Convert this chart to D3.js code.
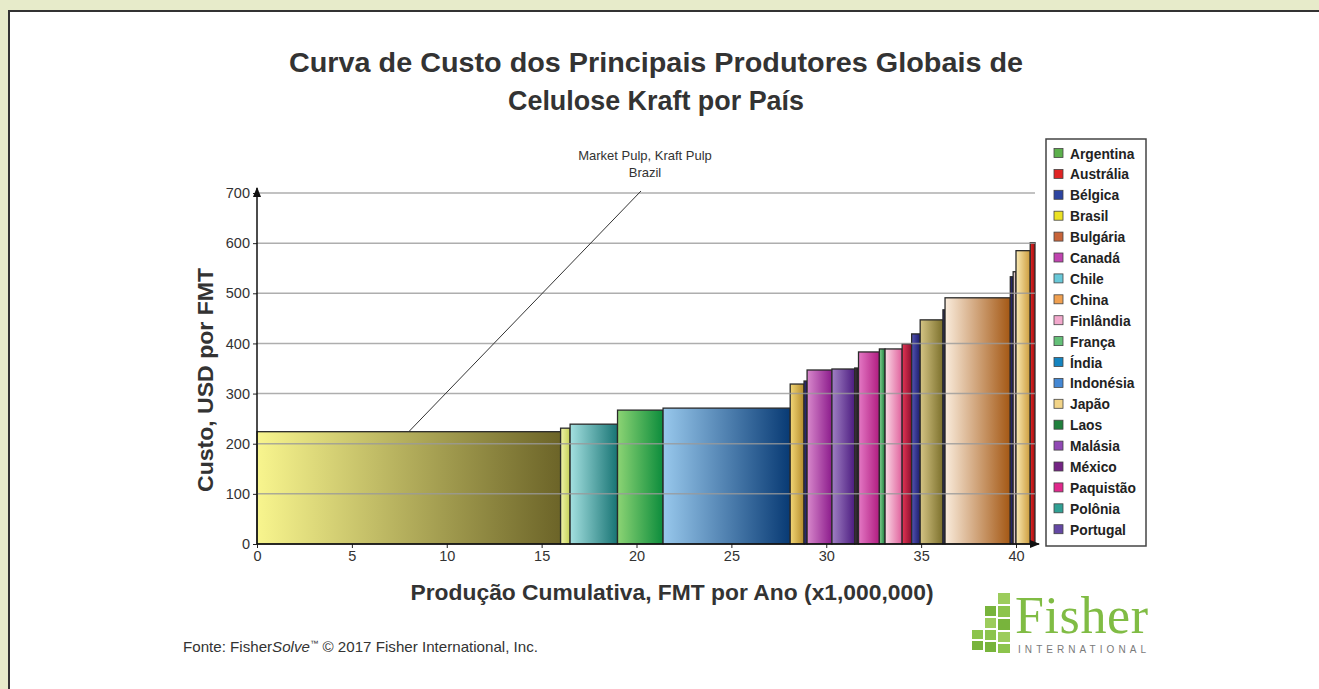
<!DOCTYPE html>
<html>
<head>
<meta charset="utf-8">
<script src="https://cdn.jsdelivr.net/npm/d3@7"></script>
<style>
  body { margin: 0; background: #e7ebca; }
  svg { display: block; }
</style>
</head>
<body>
<svg width="1319" height="689"></svg>
<script>
// bars, left to right (country, production in Mt, cost USD/FMT)
var countries = ["Brasil", "Uruguai", "Chile", "Argentina", "Indonésia", "Espanha", "Bélgica",
  "Canadá", "Portugal", "México", "Paquistão", "França", "Finlândia", "Áustria", "Alemanha",
  "Rússia", "Tailândia", "EUA", "Índia", "Polônia", "Japão", "Austrália"];
var production = [16.0, 0.5, 2.5, 2.4, 6.7, 0.73, 0.16, 1.31, 1.2, 0.2, 1.1, 0.3, 0.9, 0.5, 0.45,
  1.2, 0.11, 3.44, 0.15, 0.15, 0.75, 0.25];
var cost = [224, 231, 239, 267, 271, 319, 325, 347, 349, 351, 383, 389, 389, 399, 419,
  447, 467, 491, 533, 543, 585, 601];

var xTicks = [0, 5, 10, 15, 20, 25, 30, 35, 40];
var yTicks = [0, 100, 200, 300, 400, 500, 600, 700];

var legendNames = ["Argentina", "Austrália", "Bélgica", "Brasil", "Bulgária", "Canadá", "Chile",
  "China", "Finlândia", "França", "Índia", "Indonésia", "Japão", "Laos", "Malásia", "México",
  "Paquistão", "Polônia", "Portugal"];
var legendColors = ["#5cb04c", "#e02424", "#2c44a0", "#ece224", "#c8643a", "#c044b0", "#68c8d8",
  "#f0a050", "#f2a8cc", "#64c078", "#1484c0", "#4488d4", "#f2d488", "#20803c", "#9048b4",
  "#742484", "#e0288c", "#30a094", "#6448a4"];

// gradient ends for each bar (light -> dark)
var barColors = {
  "Brasil": ["#f8f58e", "#6c6428"], "Uruguai": ["#f0f4a8", "#c4d058"],
  "Chile": ["#a4e0e0", "#187474"], "Argentina": ["#8cd474", "#0c8c3c"],
  "Indonésia": ["#98c8ec", "#083a74"], "Espanha": ["#f2d676", "#b48c2c"],
  "Bélgica": ["#34348a", "#181850"], "Canadá": ["#d888cc", "#8c1c8c"],
  "Portugal": ["#a080c4", "#4c1c80"], "México": ["#443444", "#1c1c1c"],
  "Paquistão": ["#e478c4", "#b01c80"], "França": ["#84d494", "#1c7c3c"],
  "Finlândia": ["#fadae6", "#e0609c"], "Áustria": ["#e43454", "#8c1030"],
  "Alemanha": ["#5454b4", "#1c1c6c"], "Rússia": ["#d4c484", "#7c702c"],
  "Tailândia": ["#343474", "#101040"], "EUA": ["#faecdc", "#a45814"],
  "Índia": ["#343484", "#101040"], "Polônia": ["#f4e4e4", "#c0a0a0"],
  "Japão": ["#faeab4", "#cc9c3c"], "Austrália": ["#e42424", "#a01010"]
};

var svg = d3.select("svg");

// white panel
svg.append("rect").attr("x", 9).attr("y", 11).attr("width", 1320).attr("height", 690)
  .attr("fill", "#fff").attr("stroke", "#333").attr("stroke-width", 2);

var x = d3.scaleLinear().domain([0, 40]).range([257, 1016]);
var y = d3.scaleLinear().domain([0, 700]).range([544, 193]);

var ends = d3.cumsum(production);
var bars = countries.map(function(c, i) {
  return { country: c, x0: i ? ends[i - 1] : 0, x1: ends[i], cost: cost[i] };
});

var defs = svg.append("defs");
Object.keys(barColors).forEach(function(k, i) {
  var g = defs.append("linearGradient").attr("id", "g" + i)
    .attr("x1", "0").attr("x2", "1").attr("y1", "0").attr("y2", "0");
  g.append("stop").attr("offset", "0").attr("stop-color", barColors[k][0]);
  g.append("stop").attr("offset", "1").attr("stop-color", barColors[k][1]);
});
var gradId = {};
Object.keys(barColors).forEach(function(k, i) { gradId[k] = "url(#g" + i + ")"; });

defs.append("marker").attr("id", "arrow").attr("viewBox", "0 0 10 10")
  .attr("refX", 9).attr("refY", 5).attr("markerWidth", 7).attr("markerHeight", 7)
  .attr("orient", "auto-start-reverse")
  .append("path").attr("d", "M0,1 L10,5 L0,9 z").attr("fill", "#111");

// title
var boldFont = "Liberation Sans, Arial, sans-serif";
svg.append("text").attr("x", 656).attr("y", 72).attr("text-anchor", "middle")
  .attr("font-family", boldFont).attr("font-weight", "bold")
  .attr("font-size", 27).attr("fill", "#333")
  .attr("textLength", 734).attr("lengthAdjust", "spacingAndGlyphs")
  .text("Curva de Custo dos Principais Produtores Globais de");
svg.append("text").attr("x", 656).attr("y", 110).attr("text-anchor", "middle")
  .attr("font-family", boldFont).attr("font-weight", "bold")
  .attr("font-size", 27).attr("fill", "#333")
  .attr("textLength", 296).attr("lengthAdjust", "spacingAndGlyphs")
  .text("Celulose Kraft por País");

// bars
svg.append("g").selectAll("rect")
  .data(bars)
  .enter().append("rect")
    .attr("x", function(d) { return x(d.x0); })
    .attr("y", function(d) { return y(d.cost); })
    .attr("width", function(d) { return x(d.x1) - x(d.x0); })
    .attr("height", function(d) { return y(0) - y(d.cost); })
    .attr("fill", function(d) { return gradId[d.country]; })
    .attr("stroke", "#2a2a2a")
    .attr("stroke-width", 1.3);

// grid lines (drawn over the bars, like the original)
svg.append("g").selectAll("line")
  .data(yTicks.slice(1))
  .enter().append("line")
    .attr("x1", x(0)).attr("x2", x(41))
    .attr("y1", function(d) { return y(d); })
    .attr("y2", function(d) { return y(d); })
    .attr("stroke", "#9a9a9a").attr("stroke-opacity", 0.8).attr("stroke-width", 1.5);

// axes
var tickFont = "Liberation Sans Narrow, Arial Narrow, Liberation Sans, sans-serif";
var yAxis = svg.append("g").attr("transform", "translate(" + x(0) + ",0)")
  .call(d3.axisLeft(y).tickValues(yTicks).tickSize(4).tickPadding(3));
var xAxis = svg.append("g").attr("transform", "translate(0," + y(0) + ")")
  .call(d3.axisBottom(x).tickValues(xTicks).tickSize(4).tickPadding(3));
[yAxis, xAxis].forEach(function(a) {
  a.select(".domain").remove();
  a.selectAll("line").attr("stroke", "#222");
  a.selectAll("text").attr("font-family", tickFont).attr("font-size", 14.5).attr("fill", "#333");
});

svg.append("line").attr("x1", x(0)).attr("x2", x(0)).attr("y1", y(0)).attr("y2", 188)
  .attr("stroke", "#111").attr("stroke-width", 1.5).attr("marker-end", "url(#arrow)");
svg.append("line").attr("x1", x(0)).attr("x2", 1039).attr("y1", y(0)).attr("y2", y(0))
  .attr("stroke", "#111").attr("stroke-width", 1.5).attr("marker-end", "url(#arrow)");

// axis titles
svg.append("text").attr("transform", "translate(213,380) rotate(-90)")
  .attr("text-anchor", "middle")
  .attr("font-family", boldFont).attr("font-weight", "bold")
  .attr("font-size", 22.5).attr("fill", "#333")
  .attr("textLength", 224).attr("lengthAdjust", "spacingAndGlyphs")
  .text("Custo, USD por FMT");
svg.append("text").attr("x", 672).attr("y", 600).attr("text-anchor", "middle")
  .attr("font-family", boldFont).attr("font-weight", "bold")
  .attr("font-size", 21.5).attr("fill", "#333")
  .attr("textLength", 523).attr("lengthAdjust", "spacingAndGlyphs")
  .text("Produção Cumulativa, FMT por Ano (x1,000,000)");

// annotation for the Brasil bar
var ann = bars[0];
svg.append("line")
  .attr("x1", 641).attr("y1", 191)
  .attr("x2", x((ann.x0 + ann.x1) / 2)).attr("y2", y(ann.cost))
  .attr("stroke", "#333").attr("stroke-width", 1);
svg.append("text").attr("x", 645).attr("y", 160).attr("text-anchor", "middle")
  .attr("font-family", tickFont).attr("font-size", 13).attr("fill", "#333")
  .text("Market Pulp, Kraft Pulp");
svg.append("text").attr("x", 645).attr("y", 177).attr("text-anchor", "middle")
  .attr("font-family", tickFont).attr("font-size", 13).attr("fill", "#333")
  .text("Brazil");

// legend
var legend = svg.append("g");
legend.append("rect").attr("x", 1046).attr("y", 139).attr("width", 100).attr("height", 407)
  .attr("fill", "#fff").attr("stroke", "#444").attr("stroke-width", 1.5);
var items = legend.selectAll("g.item")
  .data(legendNames)
  .enter().append("g").attr("class", "item")
  .attr("transform", function(d, i) { return "translate(1054," + (148.5 + i * 20.9) + ")"; });
items.append("rect").attr("width", 9).attr("height", 9)
  .attr("fill", function(d, i) { return legendColors[i]; })
  .attr("stroke", "#444").attr("stroke-width", 0.8);
items.append("text").attr("x", 16).attr("y", 10)
  .attr("font-family", boldFont).attr("font-weight", "bold")
  .attr("font-size", 13.8).attr("fill", "#222")
  .text(function(d) { return d; });

// source note
var src = svg.append("text").attr("x", 183).attr("y", 652)
  .attr("font-family", boldFont).attr("font-size", 14.5)
  .attr("fill", "#333").attr("textLength", 355).attr("lengthAdjust", "spacingAndGlyphs");
src.append("tspan").text("Fonte: Fisher");
src.append("tspan").attr("font-style", "italic").text("Solve");
src.append("tspan").attr("font-size", 8).attr("dy", -6).text("™");
src.append("tspan").attr("dy", 6).text(" © 2017 Fisher International,  Inc.");

// Fisher logo
var logo = svg.append("g");
var cells = [
  [972, 630, 11, 9], [972, 641, 11, 9],
  [985, 618, 11, 10], [985, 630, 11, 10], [985, 642, 11, 10],
  [998, 593, 12, 11], [998, 606, 12, 11], [998, 619, 12, 11], [998, 632, 12, 10], [998, 644, 12, 9],
  [985, 606, 11, 10]
];
cells.forEach(function(c, i) {
  logo.append("rect").attr("x", c[0]).attr("y", c[1]).attr("width", c[2]).attr("height", c[3])
    .attr("fill", i % 3 === 0 ? "#8cc44c" : (i % 3 === 1 ? "#78b43c" : "#9ccc5c"));
});
logo.append("text").attr("x", 1015).attr("y", 633)
  .attr("font-family", "Liberation Serif, Times New Roman, serif").attr("font-size", 52)
  .attr("fill", "#80bc44").attr("textLength", 133).text("Fisher");
logo.append("text").attr("x", 1018).attr("y", 653)
  .attr("font-family", boldFont).attr("font-size", 10)
  .attr("fill", "#7a7a7a").attr("textLength", 128).attr("lengthAdjust", "spacing")
  .text("INTERNATIONAL");
</script>
</body>
</html>
